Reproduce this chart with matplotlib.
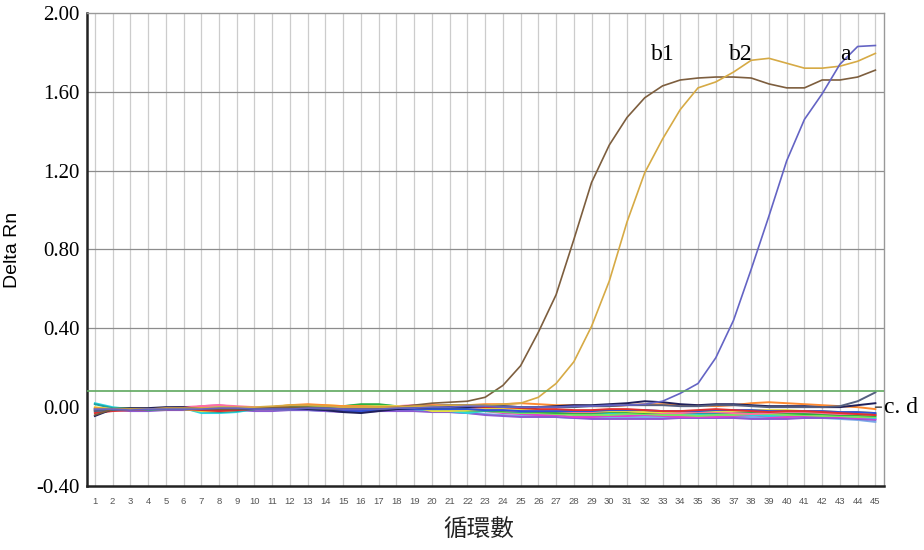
import matplotlib
matplotlib.use("Agg")
import matplotlib.pyplot as plt

# amplification cycles and Delta Rn readings
cycles = list(range(1, 46))
threshold = 0.08

b1 = [-0.04, -0.01, -0.01, -0.01, -0.005, -0.005, -0.01, -0.01, -0.01, -0.005,
      0.0, 0.0, 0.0, -0.005, -0.01, -0.01, -0.005, 0.0, 0.01, 0.02,
      0.025, 0.03, 0.05, 0.11, 0.21, 0.38, 0.57, 0.85, 1.14, 1.33,
      1.47, 1.57, 1.63, 1.66, 1.67, 1.675, 1.675, 1.67, 1.64, 1.62,
      1.62, 1.66, 1.66, 1.675, 1.71]
b2 = [-0.01, -0.01, -0.01, -0.01, -0.005, -0.005, -0.005, 0.0, 0.0, 0.0,
      0.005, 0.01, 0.01, 0.005, 0.0, 0.0, 0.0, 0.0, 0.005, 0.005,
      0.01, 0.01, 0.01, 0.015, 0.02, 0.05, 0.12, 0.23, 0.41, 0.64,
      0.94, 1.19, 1.36, 1.51, 1.62, 1.65, 1.70, 1.76, 1.77, 1.745,
      1.72, 1.72, 1.73, 1.755, 1.795]
a = [-0.01, -0.01, -0.015, -0.01, -0.01, -0.01, -0.01, -0.005, -0.005, -0.01,
     -0.01, -0.01, -0.005, -0.005, -0.01, -0.01, -0.01, -0.005, -0.005, 0.0,
     0.0, 0.005, 0.005, 0.0, 0.0, 0.0, 0.0, 0.005, 0.005, 0.01,
     0.01, 0.015, 0.03, 0.07, 0.12, 0.25, 0.44, 0.70, 0.97, 1.25,
     1.46, 1.59, 1.74, 1.83, 1.835]

# negative samples (groups c and d)
neg_cyan = [0.02, 0.0, -0.01, -0.01, -0.01, -0.005, -0.03, -0.03, -0.025, -0.01,
            -0.005, -0.005, -0.01, -0.01, 0.0, 0.01, 0.005, 0.0, -0.01, -0.015,
            -0.02, -0.03, -0.02, -0.02, -0.025, -0.03, -0.03, -0.035, -0.035, -0.03,
            -0.03, -0.03, -0.035, -0.04, -0.04, -0.035, -0.035, -0.04, -0.045, -0.04,
            -0.04, -0.04, -0.045, -0.05, -0.055]
neg_magenta = [-0.01, -0.01, -0.015, -0.015, -0.01, -0.01, 0.005, 0.01, 0.0, -0.01,
               -0.01, -0.005, -0.005, -0.01, -0.015, -0.015, -0.01, -0.005, -0.01, -0.01,
               -0.01, -0.015, -0.02, -0.03, -0.035, -0.04, -0.04, -0.05, -0.05, -0.045,
               -0.045, -0.04, -0.045, -0.05, -0.05, -0.05, -0.045, -0.04, -0.05, -0.05,
               -0.045, -0.045, -0.05, -0.055, -0.06]
neg_green = [-0.02, -0.015, -0.01, -0.01, -0.005, 0.0, -0.005, -0.01, -0.01, -0.005,
             -0.005, 0.0, 0.0, 0.0, 0.005, 0.015, 0.015, 0.005, 0.0, -0.005,
             -0.01, -0.01, -0.015, -0.02, -0.02, -0.025, -0.03, -0.03, -0.03, -0.025,
             -0.025, -0.03, -0.03, -0.025, -0.02, -0.02, -0.025, -0.03, -0.03, -0.03,
             -0.035, -0.035, -0.04, -0.04, -0.045]
neg_orange = [-0.005, -0.01, -0.01, -0.01, -0.01, -0.005, -0.005, -0.005, -0.005, -0.005,
              0.0, 0.01, 0.015, 0.01, 0.005, 0.005, 0.0, 0.0, 0.005, 0.01,
              0.01, 0.01, 0.015, 0.015, 0.02, 0.015, 0.01, 0.01, 0.005, 0.005,
              0.01, 0.015, 0.015, 0.01, 0.01, 0.005, 0.01, 0.02, 0.025, 0.02,
              0.015, 0.01, 0.005, 0.0, -0.01]
neg_red = [-0.03, -0.02, -0.015, -0.01, -0.01, -0.01, -0.015, -0.02, -0.015, -0.01,
           -0.01, -0.005, -0.005, -0.01, -0.01, -0.005, 0.0, 0.0, 0.0, 0.005,
           0.005, 0.005, 0.0, 0.0, -0.005, -0.01, -0.01, -0.015, -0.015, -0.01,
           -0.01, -0.015, -0.02, -0.02, -0.015, -0.01, -0.015, -0.02, -0.025, -0.02,
           -0.02, -0.025, -0.03, -0.035, -0.04]
neg_navy = [-0.045, -0.01, -0.005, -0.005, 0.0, 0.0, -0.01, -0.01, -0.01, -0.01,
            -0.005, -0.005, -0.01, -0.015, -0.025, -0.03, -0.02, -0.01, -0.005, 0.0,
            0.0, 0.0, 0.005, 0.005, 0.0, 0.0, 0.005, 0.01, 0.01, 0.015,
            0.02, 0.03, 0.025, 0.015, 0.01, 0.015, 0.015, 0.01, 0.005, 0.005,
            0.005, 0.0, 0.0, 0.01, 0.02]
neg_slate = [-0.02, -0.015, -0.01, -0.01, -0.01, -0.01, -0.01, -0.005, -0.005, -0.005,
             -0.005, -0.005, -0.005, -0.01, -0.01, -0.01, -0.01, -0.005, 0.0, 0.005,
             0.01, 0.01, 0.01, 0.005, 0.0, 0.0, 0.0, 0.0, 0.005, 0.005,
             0.01, 0.01, 0.01, 0.005, 0.005, 0.01, 0.01, 0.005, 0.0, 0.0,
             0.0, 0.0, 0.005, 0.03, 0.075]
neg_purple = [-0.01, -0.015, -0.02, -0.02, -0.015, -0.015, -0.01, -0.01, -0.015, -0.02,
              -0.02, -0.015, -0.015, -0.02, -0.025, -0.025, -0.02, -0.02, -0.02, -0.025,
              -0.025, -0.03, -0.04, -0.045, -0.05, -0.05, -0.05, -0.055, -0.06, -0.06,
              -0.06, -0.06, -0.06, -0.055, -0.055, -0.055, -0.055, -0.06, -0.06, -0.06,
              -0.055, -0.055, -0.055, -0.06, -0.065]
neg_yellow = [0.0, -0.01, -0.01, -0.005, -0.005, -0.01, -0.02, -0.02, -0.015, -0.005,
              0.0, 0.01, 0.01, 0.01, 0.005, 0.005, 0.005, 0.005, 0.0, -0.02,
              -0.02, -0.015, -0.01, -0.005, -0.01, -0.015, -0.015, -0.02, -0.02, -0.02,
              -0.02, -0.025, -0.025, -0.02, -0.02, -0.02, -0.02, -0.015, -0.015, -0.015,
              -0.02, -0.02, -0.025, -0.025, -0.03]
neg_lightgreen = [-0.01, -0.005, -0.005, -0.01, -0.01, -0.005, -0.005, 0.0, 0.0, -0.005,
                  -0.01, -0.01, -0.005, -0.005, 0.0, 0.005, 0.0, -0.005, -0.01, -0.01,
                  -0.015, -0.02, -0.02, -0.025, -0.03, -0.03, -0.035, -0.04, -0.04, -0.04,
                  -0.035, -0.035, -0.04, -0.04, -0.045, -0.04, -0.04, -0.035, -0.035, -0.04,
                  -0.04, -0.045, -0.045, -0.05, -0.05]
neg_pink = [-0.02, -0.01, -0.01, -0.01, -0.005, 0.0, 0.005, 0.01, 0.005, 0.0,
            -0.005, -0.005, -0.01, -0.01, -0.005, -0.005, 0.0, 0.005, 0.01, 0.01,
            0.005, 0.0, -0.01, -0.015, -0.02, -0.02, -0.02, -0.025, -0.025, -0.02,
            -0.02, -0.025, -0.03, -0.03, -0.025, -0.025, -0.03, -0.035, -0.03, -0.025,
            -0.025, -0.03, -0.035, -0.035, -0.04]
neg_teal = [0.015, -0.005, -0.01, -0.015, -0.01, -0.01, -0.02, -0.025, -0.02, -0.01,
            -0.01, -0.01, -0.01, -0.005, 0.005, 0.01, 0.01, 0.005, 0.0, -0.005,
            -0.01, -0.015, -0.02, -0.02, -0.025, -0.025, -0.025, -0.03, -0.03, -0.025,
            -0.025, -0.025, -0.03, -0.03, -0.03, -0.03, -0.03, -0.025, -0.025, -0.025,
            -0.03, -0.03, -0.03, -0.03, -0.035]
neg_lightblue = [-0.015, -0.01, -0.015, -0.015, -0.01, -0.01, -0.01, -0.015, -0.015, -0.01,
                 -0.01, -0.015, -0.015, -0.02, -0.02, -0.02, -0.015, -0.015, -0.015, -0.02,
                 -0.025, -0.03, -0.035, -0.04, -0.045, -0.045, -0.05, -0.055, -0.055, -0.05,
                 -0.05, -0.05, -0.05, -0.055, -0.055, -0.055, -0.05, -0.05, -0.055, -0.055,
                 -0.055, -0.055, -0.06, -0.065, -0.075]
neg_blue = [-0.01, -0.01, -0.01, -0.01, -0.005, -0.005, -0.01, -0.015, -0.01, -0.01,
            -0.01, -0.01, -0.01, -0.015, -0.02, -0.02, -0.015, -0.01, -0.01, -0.01,
            -0.01, -0.01, -0.015, -0.015, -0.02, -0.02, -0.02, -0.02, -0.02, -0.015,
            -0.015, -0.015, -0.02, -0.02, -0.02, -0.015, -0.015, -0.015, -0.02, -0.02,
            -0.02, -0.02, -0.025, -0.025, -0.03]

negatives = [
    (neg_lightblue, "#7aa8e8"), (neg_purple, "#8c5ad2"), (neg_magenta, "#e040d0"),
    (neg_cyan, "#2ad4e0"), (neg_lightgreen, "#80e060"), (neg_teal, "#20a0a0"),
    (neg_green, "#30b040"), (neg_pink, "#ff70a0"), (neg_yellow, "#e8e040"),
    (neg_blue, "#3050d8"), (neg_red, "#e03030"), (neg_orange, "#ff8a30"),
    (neg_navy, "#20205a"), (neg_slate, "#556080"),
]

yticks = [-0.4, 0.0, 0.4, 0.8, 1.2, 1.6, 2.0]

fig = plt.figure(figsize=(9.24, 5.5), dpi=100)
ax = fig.add_axes([0.094, 0.1164, 0.863, 0.86])

for x in cycles:
    ax.axvline(x, color="#cccccc", lw=0.9, zorder=0)
for y in yticks[2:-1]:
    ax.axhline(y, color="#8c8c8c", lw=0.9, zorder=0)

for vals, col in negatives:
    ax.plot(cycles, vals, color=col, lw=1.4, zorder=2)

ax.plot(cycles, b1, color="#7d5e3e", lw=1.2, zorder=3)
ax.plot(cycles, b2, color="#d6aa45", lw=1.2, zorder=3)
ax.plot(cycles, a, color="#6464c4", lw=1.2, zorder=3)

ax.axhline(threshold, color="#5fa85f", lw=1.2, zorder=4)

ax.set_xlim(0.55, 45.5)
ax.set_ylim(-0.4, 2.0)
ax.set_xticks(cycles)
ax.set_xticklabels([str(c) for c in cycles], fontsize=6.8, color="#555555",
                   family="Liberation Sans")
ax.set_yticks(yticks)
ax.set_yticklabels([f"{v:.2f}" for v in yticks], fontsize=15, family="Liberation Serif")
ax.tick_params(axis="both", length=0)
ax.tick_params(axis="x", pad=8)
ax.tick_params(axis="y", pad=5)

for side in ["top", "right"]:
    ax.spines[side].set_color("#999999")
    ax.spines[side].set_linewidth(1.0)
for side in ["left", "bottom"]:
    ax.spines[side].set_color("#222222")
    ax.spines[side].set_linewidth(1.8)

ax.set_ylabel("Delta Rn", fontsize=14, family="Liberation Sans")
ax.yaxis.set_label_coords(-0.083, 0.5)
ax.set_xlabel("循環數", fontsize=17, family=["Noto Sans CJK TC", "DejaVu Sans"],
              color="#222222")
ax.xaxis.set_label_coords(0.491, -0.068)

lab_font = dict(fontsize=17, family="Liberation Serif", ha="center", va="center")
ax.text(33.0, 1.79, "b1", **lab_font)
ax.text(37.4, 1.79, "b2", **lab_font)
ax.text(43.3, 1.79, "a", **lab_font)
ax.annotate("c. d", xy=(45, 0.0), xytext=(45.5, 0.0), textcoords="data",
            fontsize=17, family="Liberation Serif", ha="left", va="center",
            annotation_clip=False,
            arrowprops=dict(arrowstyle="-", color="#333333", lw=1.0,
                            shrinkA=0, shrinkB=0))

fig.savefig("out.png", dpi=100)
